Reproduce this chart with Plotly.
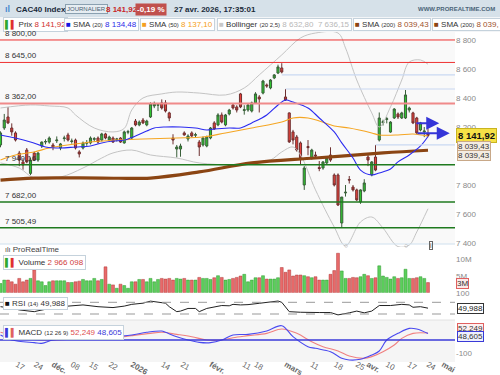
import plotly.graph_objects as go

# ---------------- DATA ----------------
opens = [8076,8193,8269,8193,8159,8020,7959,8041,7880,8020,7972,8069,8096,8096,8076,8105,8055,8120,8145,8100,
         8110,8028,8055,8088,8090,8115,8124,8110,8152,8110,8124,8115,8124,8090,8164,8124,8241,8214,8248,8214,
         8269,8345,8350,8366,8366,8297,8124,8048,8048,8159,8117,8159,8143,8096,8076,8069,8124,8228,8214,8283,
         8214,8290,8352,8338,8428,8314,8317,8310,8366,8407,8434,8490,8469,8538,8572,8607,8407,8297,8166,8131,
         8090,7800,8065,7986,8007,7920,7917,7952,8007,7869,7869,7538,7745,7838,7786,7766,7683,7759,7993,7869,
         7993,8110,8230,8252,8165,8262,8290,8262,8262,8317,8297,8262,8179,8166,8152]
highs = [8170,8290,8338,8225,8170,8035,7985,8055,7990,8030,8028,8100,8115,8135,8090,8135,8090,8140,8160,8120,
         8120,8040,8100,8110,8135,8130,8135,8160,8160,8140,8135,8125,8130,8175,8180,8200,8255,8245,8262,8250,
         8370,8375,8365,8390,8385,8305,8150,8076,8085,8170,8150,8170,8160,8110,8135,8140,8200,8240,8295,8300,
         8290,8325,8365,8350,8435,8350,8360,8375,8440,8420,8525,8500,8530,8565,8630,8640,8462,8300,8180,8145,
         8100,7930,8110,8050,8030,7965,7965,7995,8060,7880,7880,7717,7800,7862,7800,7775,7770,7840,8020,7965,
         8076,8300,8250,8270,8240,8330,8300,8305,8455,8340,8305,8270,8235,8200,8190]
lows = [8060,8180,8220,8140,8100,7930,7905,7950,7868,7965,7960,8055,8080,8085,8040,8090,8040,8100,8100,8085,
        8045,7990,8045,8070,8080,8100,8085,8100,8115,8100,8090,8100,8090,8085,8150,8115,8205,8205,8220,8205,
        8262,8330,8310,8320,8300,8240,8080,7990,7995,8140,8100,8130,8130,8000,8065,8060,8115,8180,8205,8225,
        8205,8280,8320,8300,8330,8285,8305,8300,8360,8300,8425,8470,8460,8530,8565,8570,8380,8090,8080,8030,
        7940,7766,8005,7975,7985,7895,7905,7940,7960,7790,7655,7505,7720,7810,7755,7690,7670,7750,7930,7860,
        7895,8100,8210,8225,8160,8255,8255,8255,8255,8300,8220,8150,8170,8130,8130]
closes = [8159,8248,8228,8166,8110,7972,7938,7959,7972,7972,8020,8096,8100,8124,8062,8110,8083,8124,8110,8103,
          8055,8014,8090,8092,8124,8119,8096,8152,8124,8131,8096,8117,8096,8166,8168,8193,8214,8234,8228,8241,
          8359,8359,8354,8331,8310,8262,8110,8062,8069,8145,8138,8138,8147,8062,8124,8131,8193,8186,8283,8234,
          8283,8317,8331,8317,8338,8319,8352,8366,8428,8393,8517,8483,8524,8559,8614,8579,8386,8097,8110,8041,
          7986,7917,8058,8041,8000,7914,7959,7986,7972,7800,7662,7717,7750,7834,7766,7697,7766,7814,7972,7959,
          7903,8262,8236,8257,8234,8324,8269,8297,8421,8331,8228,8159,8228,8172,8141.92]
volumes_m = [2.7,3.7,3.7,3.2,2.5,4.2,3.2,3.7,4.2,6.7,3.5,3.2,2.1,3.2,3.5,3.5,3.5,3.5,3.0,3.0,
             3.2,3.4,3.9,3.5,3.5,4.2,3.5,3.9,7.6,2.5,2.3,1.3,2.5,2.1,1.3,3.2,3.2,3.9,3.9,3.2,
             4.2,3.2,3.9,4.2,4.0,4.2,3.7,4.2,4.0,4.2,3.7,3.7,3.7,4.5,4.2,4.2,3.9,4.4,5.0,4.5,
             3.7,3.9,4.2,4.5,4.9,5.4,3.2,3.7,4.4,4.4,5.0,4.0,4.0,4.0,4.4,7.4,6.0,6.7,4.9,5.2,
             5.2,5.0,4.7,4.4,4.7,3.7,3.7,3.7,5.4,6.5,11.6,6.4,4.2,4.2,4.5,4.4,4.7,5.4,5.0,4.2,
             4.4,7.9,4.9,4.5,4.0,4.7,4.2,4.4,6.9,4.2,4.2,4.4,4.7,4.2,2.966098]

# indicator values (index, value)
sma20_idx = [0,4,8,12,16,20,24,27,30,33,36,39,41,44,48,52,55,57,61,64,67,71,74,76,78,82,85,89,91,94,96,99,101,104,106,109,112,114]
sma20_val = [8145,8124,8097,8062,8055,8062,8069,8090,8103,8110,8138,8172,8193,8200,8200,8193,8179,8186,8193,8193,8228,8283,8352,8386,8372,8331,8262,8166,8090,7986,7903,7869,7883,7910,7959,8007,8069,8134.48]
sma50_idx = [0,4,9,13,22,31,38,47,54,60,67,75,78,82,85,89,93,99,101,106,110,114]
sma50_val = [7972,8007,8028,8055,8090,8110,8117,8124,8131,8159,8193,8234,8262,8262,8241,8207,8193,8159,8145,8145,8152,8137.10]
sma200_idx = [0,9,27,40,53,67,84,102,114]
sma200_val = [7834,7848,7848,7848,7890,7952,7986,8021,8039.43]
bb_up_idx = [0,8,13,18,20,25,30,33,35,38,43,47,53,60,65,69,75,80,84,90,92,95,99,101,104,107,109,112,114]
bb_up_val = [8331,8352,8345,8331,8283,8193,8166,8190,8317,8400,8428,8441,8434,8421,8469,8559,8697,8814,8848,8848,8745,8524,8297,8200,8338,8524,8648,8662,8632.80]
bb_lo_idx = [0,5,9,16,22,27,30,35,40,47,53,62,67,72,75,78,80,84,89,92,96,99,102,106,109,111,114]
bb_lo_val = [7952,7917,7848,7855,7917,7986,8021,8041,8007,7986,7952,7938,7945,7972,8028,8062,8007,7766,7510,7380,7545,7579,7503,7375,7386,7476,7636.15]
rsi_idx = [0,3,5,7,9,10,12,15,18,22,26,30,33,35,38,40,42,44,45,47,48,50,52,53,55,57,59,61,62,64,66,69,71,74,75,77,80,83,85,88,90,93,95,97,99,101,104,107,109,110,112,114]
rsi_val = [55,50,44,40,38,41,46,60,57,61,55,52,57,63,67,74,70,67,55,38,40,49,49,38,49,55,59,58,63,61,62,66.6,70,74.4,70,38,36,34,35,35,27,34,40,34,40,59,59,63,61,53,55,49.988]
macd_idx = [0,3,9,11,14,18,22,27,31,35,39,43,44,47,50,53,56,59,62,66,71,75,78,82,84,88,91,93,96,99,101,103,106,109,111,114]
macd_val = [37.6,0,-20,-25,0,7.5,17,12.5,25,37.6,58,67.7,58,25,0,-17.5,-20,0,37.6,42.6,67.7,107.5,25,-50,-62.6,-87.7,-137.8,-150,-145,-112.8,-82.7,0,50,87.7,82.7,48.605]
sig_idx = [0,5,9,13,18,22,27,31,35,40,43,47,51,55,59,62,66,71,75,79,83,86,90,93,97,99,102,105,107,110,114]
sig_val = [58,25,5,0,5,12.5,12.5,17.5,32.6,50,58,42.6,25,0,0,17.5,32.6,50,82.7,50,-12.5,-50,-82.7,-120,-137.8,-125,-87.7,-37.6,12.5,50,52.249]

red_levels = [8800.00, 8645.00, 8362.00]
red_labels = ["8 800,00", "8 645,00", "8 362,00"]
green_levels = [7940.16, 7682.00, 7505.49]
green_labels = ["7 940,16", "7 682,00", "7 505,49"]
blue_levels = [8559, 8462, 8076]
blue_starts = [75, 76, 100]
arrow_levels = [8225, 8157]
arrow_start = [110.5, 110.8]
arrow_end = [117.0, 119.8]
event_idx = [92, 108]

tick_pos = [4.4, 9.3, 14, 19.1, 24, 29.2, 35.1, 43.2, 48.4, 56.1, 64.9, 68, 76.1, 83, 89.3, 95.1, 98, 103.1, 108.9, 114, 118]
tick_lab = ["17", "24", "<b>déc.</b>", "08", "15", "22", "<b>2026</b>", "14", "21", "<b>févr.</b>", "11", "18",
            "<b>mars</b>", "11", "18", "25", "<b>avr.</b>", "10", "17", "24", "<b>mai</b>"]
price_ticks = [7400, 7600, 7800, 8200, 8400, 8600, 8800]

# ---------------- FIGURE ----------------
FONT = "Liberation Sans, Arial, sans-serif"
W, H = 500, 375
XD = 0.91
n = len(closes)
idx = list(range(n))

def py(p):  # pixel y -> paper fraction
    return 1 - p / H

def px(p):
    return p / W

fig = go.Figure()

for xi, yv in ((bb_up_idx, bb_up_val), (bb_lo_idx, bb_lo_val)):
    fig.add_trace(go.Scatter(x=xi, y=yv, mode="lines", line=dict(color="#c4c4c4", width=1, shape="spline"),
                             hoverinfo="skip", yaxis="y"))
fig.add_trace(go.Scatter(x=sma200_idx, y=sma200_val, mode="lines",
                         line=dict(color="#8b4513", width=3.2, shape="spline"), hoverinfo="skip", yaxis="y"))
fig.add_trace(go.Scatter(x=sma50_idx, y=sma50_val, mode="lines",
                         line=dict(color="#f5a623", width=1.1, shape="spline"), hoverinfo="skip", yaxis="y"))
fig.add_trace(go.Scatter(x=sma20_idx, y=sma20_val, mode="lines",
                         line=dict(color="#2b2bf0", width=1.1, shape="spline"), hoverinfo="skip", yaxis="y"))

fig.add_trace(go.Candlestick(
    x=idx, open=opens, high=highs, low=lows, close=closes, yaxis="y",
    increasing=dict(fillcolor="#2fc42f", line=dict(color="#3a5f3a", width=1)),
    decreasing=dict(fillcolor="#e8403a", line=dict(color="#6e3030", width=1)),
    whiskerwidth=0, hoverinfo="skip"))

vcol = ["#5ccf5c" if c >= o else "#e86a6a" for o, c in zip(opens, closes)]
vline = ["#2f9a2f" if c >= o else "#b03a3a" for o, c in zip(opens, closes)]
fig.add_trace(go.Bar(x=idx, y=[v * 1e6 for v in volumes_m], yaxis="y2", width=0.78,
                     marker=dict(color=vcol, line=dict(color=vline, width=0.5)), hoverinfo="skip"))

fig.add_trace(go.Scatter(x=rsi_idx, y=rsi_val, mode="lines", line=dict(color="#222", width=1),
                         yaxis="y3", hoverinfo="skip"))
fig.add_trace(go.Scatter(x=sig_idx, y=sig_val, mode="lines", line=dict(color="#f08080", width=1.1, shape="spline"),
                         yaxis="y4", hoverinfo="skip"))
fig.add_trace(go.Scatter(x=macd_idx, y=macd_val, mode="lines", line=dict(color="#4a4af0", width=1.1, shape="spline"),
                         yaxis="y4", hoverinfo="skip"))

shapes = []
shapes.append(dict(type="rect", xref="paper", yref="paper", x0=0, x1=1, y0=py(17), y1=1,
                   fillcolor="#d6e1e9", line=dict(width=0), layer="below"))
shapes.append(dict(type="rect", xref="paper", yref="paper", x0=0, x1=1, y0=py(32), y1=py(17),
                   fillcolor="#f3f5f7", line=dict(width=0), layer="below"))
shapes.append(dict(type="rect", xref="paper", yref="paper", x0=0, x1=XD, y0=py(244), y1=py(32),
                   fillcolor="#f9f9f9", line=dict(width=0), layer="below"))
shapes.append(dict(type="rect", xref="paper", yref="paper", x0=0, x1=XD, y0=py(362), y1=py(320),
                   fillcolor="#f5f5f5", line=dict(width=0), layer="below"))
shapes.append(dict(type="line", xref="paper", yref="paper", x0=0, x1=XD, y0=py(244), y1=py(244),
                   line=dict(color="#cfe0ee", width=1)))
shapes.append(dict(type="line", xref="paper", yref="paper", x0=0, x1=XD, y0=py(320), y1=py(320),
                   line=dict(color="#e2e2e2", width=1)))
for lv in red_levels[:2]:
    shapes.append(dict(type="line", xref="paper", yref="y", x0=0, x1=XD, y0=lv, y1=lv,
                       line=dict(color="#ee3030", width=1)))
shapes.append(dict(type="line", xref="paper", yref="y", x0=0, x1=XD, y0=red_levels[2], y1=red_levels[2],
                   line=dict(color="#f08a8a", width=2)))
for lv in green_levels:
    shapes.append(dict(type="line", xref="paper", yref="y", x0=0, x1=XD, y0=lv, y1=lv,
                       line=dict(color="#1f7a1f", width=1.5)))
for lv, st in zip(blue_levels, blue_starts):
    shapes.append(dict(type="line", xref="x", yref="y", x0=st, x1=121.2, y0=lv, y1=lv,
                       line=dict(color="#c9d8f2", width=1.2)))
for lv in (70, 30):
    shapes.append(dict(type="line", xref="paper", yref="y3", x0=0, x1=XD, y0=lv, y1=lv,
                       line=dict(color="#999", width=1, dash="dash")))
shapes.append(dict(type="line", xref="paper", yref="y4", x0=0, x1=XD, y0=0, y1=0,
                   line=dict(color="#3a3ad8", width=1.5)))

ann = []
def A(text, x, y, size=8, color="#333", xanchor="left", yanchor="middle", **kw):
    d = dict(text=text, x=x, y=y, xref=kw.pop("xref", "paper"), yref=kw.pop("yref", "paper"),
             showarrow=False, xanchor=xanchor, yanchor=yanchor,
             font=dict(family=FONT, size=size, color=color))
    d.update(kw)
    ann.append(d)

# header
A("<b>ıl</b>", px(3), py(9), size=9, color="#4a8ad0")
A("<b>CAC40 Index</b>", px(14), py(9), size=8, color="#1a2a3a")
A("JOURNALIER", px(65), py(9), size=6, color="#4a6070", bgcolor="#e6edf2", bordercolor="#8aa0b0",
  borderwidth=1, borderpad=1)
A("<b>8 141,92</b>", px(104), py(9), size=8, color="#c82828")
A("<b>-0,19 %</b>", px(135), py(9), size=8, color="#ffffff", bgcolor="#c0504d", borderpad=1)
A("<b>27 avr. 2026, 17:35:01</b>", px(172), py(9), size=8, color="#1a2a3a")
A("<b>WWW.PROREALTIME.COM</b>", px(497), py(9), size=6, color="#4a6478", xanchor="right")

# legend row
LB = dict(bgcolor="#ffffff", bordercolor="#c5d2dc", borderwidth=1, borderpad=1)
sm = "<span style='font-size:6px'>"
A("<span style='color:#2fa82f'>▌</span><span style='color:#e03030'>▌</span> Prix <span style='color:#d03030'>8 141,92</span>",
  px(3), py(25), **LB)
A("<span style='color:#1515e0'>■</span> SMA " + sm + "(20)</span> <span style='color:#2b2be8'>8 134,48</span>",
  px(64), py(25), **LB)
A("<span style='color:#f5a020'>■</span> SMA " + sm + "(50)</span> <span style='color:#f5a020'>8 137,10</span>",
  px(140), py(25), **LB)
A("<span style='color:#c8c8c8'>■</span> Bollinger " + sm + "(20 2,5)</span> <span style='color:#b8b8b8'>8 632,80  7 636,15</span>",
  px(217), py(25), **LB)
A("<span style='color:#8b4513'>■</span> SMA " + sm + "(200)</span> <span style='color:#a0522d'>8 039,43</span>",
  px(353), py(25), **LB)
A("<span style='color:#8b4513'>■</span> SMA " + sm + "(200)</span> <span style='color:#a0522d'>8 039,</span>",
  px(432), py(25), **LB)

for lv, lb in zip(red_levels + green_levels, red_labels + green_labels):
    A(lb, 0.006, lv, size=8, color="#333", yref="y", yanchor="bottom", yshift=0)

for lv, s, e in zip(arrow_levels, arrow_start, arrow_end):
    ann.append(dict(x=e, y=lv, ax=s, ay=lv, xref="x", yref="y", axref="x", ayref="y", text="",
                    showarrow=True, arrowhead=2, arrowsize=1.3, arrowwidth=2, arrowcolor="#3535d8"))

A("<b>8 141,92</b>", XD + 0.002, closes[-1], size=9.5, color="#111", yref="y",
  bgcolor="#f6e146", bordercolor="#c9b420", borderwidth=1, borderpad=1)
A("8 039,43", XD + 0.004, sma200_val[-1], size=8, color="#333", yref="y", yshift=4,
  bgcolor="#f4ece2", bordercolor="#c8a888", borderwidth=1, borderpad=0)
A("8 039,43", XD + 0.004, sma200_val[-1], size=8, color="#333", yref="y", yshift=-5,
  bgcolor="#f4ece2", bordercolor="#c8a888", borderwidth=1, borderpad=0)
A("3M", XD + 0.002, volumes_m[-1] * 1e6, size=8, color="#333", yref="y2", yshift=-1,
  bgcolor="#fbe9e9", bordercolor="#e06060", borderwidth=1, borderpad=0)
A("49,988", XD + 0.004, rsi_val[-1], size=8, color="#222", yref="y3",
  bgcolor="#ffffff", bordercolor="#333333", borderwidth=1, borderpad=0)
A("52,249", XD + 0.004, sig_val[-1], size=8, color="#333", yref="y4", yshift=5,
  bgcolor="#fdf0f0", bordercolor="#e06060", borderwidth=1, borderpad=0)
A("48,605", XD + 0.004, macd_val[-1], size=8, color="#333", yref="y4", yshift=-3,
  bgcolor="#eef0fd", bordercolor="#3a3ad8", borderwidth=1, borderpad=0)

A("<span style='font-size:7px'>ılı</span> ProRealTime", px(3), py(249), size=8, color="#444")
A("<span style='color:#2fa82f'>▌</span><span style='color:#e03030'>▌</span> Volume <span style='color:#d04040'>2 966 098</span>",
  px(3), py(262), **LB)
A("<span style='color:#111'>■</span> RSI " + sm + "(14)</span> 49,988", px(3), py(303), **LB)
A("<span style='color:#3a3ad8'>▌</span><span style='color:#e06060'>▌</span> MACD " + sm + "(12 26 9)</span> "
  "<span style='color:#e05050'>52,249</span> <span style='color:#3a3ad8'>48,605</span>", px(3), py(332), **LB)
A("i", px(429), py(245), size=7, color="#333", bordercolor="#666", borderwidth=1, borderpad=0, bgcolor="#fff")
for ei in event_idx:
    A("○", ei, py(245), size=7, color="#aaa", xref="x", xanchor="center")

axfont = dict(family=FONT, size=8, color="#8a8a8a")
common_y = dict(showgrid=False, zeroline=False, ticks="", tickfont=axfont, automargin=False,
                side="right", anchor="x", fixedrange=True)
fig.update_layout(
    width=W, height=H, margin=dict(l=0, r=0, t=0, b=0, autoexpand=False),
    paper_bgcolor="#ffffff", plot_bgcolor="rgba(0,0,0,0)", showlegend=False,
    boxgap=0.2,
    xaxis=dict(domain=[0, XD], range=[-0.133, 121.2], tickvals=tick_pos, ticktext=tick_lab,
               showgrid=False, zeroline=False, showline=False, ticks="", anchor="free",
               position=py(357.5), tickfont=dict(family=FONT, size=8, color="#666"),
               rangeslider=dict(visible=False), fixedrange=True, automargin=False),
    yaxis=dict(domain=[py(247), py(32)], range=[7372.4, 8855],
               tickvals=price_ticks, ticktext=[f"{v:,}".replace(",", " ") for v in price_ticks], **common_y),
    yaxis2=dict(domain=[py(292.7), py(250)], range=[0, 12.56e6],
                tickvals=[5e6, 10e6], ticktext=["5M", "10M"], **common_y),
    yaxis3=dict(domain=[py(320), py(293)], range=[9.5, 101.8],
                tickvals=[100], ticktext=["100"], **common_y),
    yaxis4=dict(domain=[py(362), py(320)], range=[-165.4, 150.4],
                tickvals=[-100], ticktext=["-100"], **common_y),
    shapes=shapes, annotations=ann,
)

fig.write_html("out.html", include_plotlyjs=True, full_html=True,
               config={"displayModeBar": False, "staticPlot": True},
               post_script="document.body.style.margin='0';")
